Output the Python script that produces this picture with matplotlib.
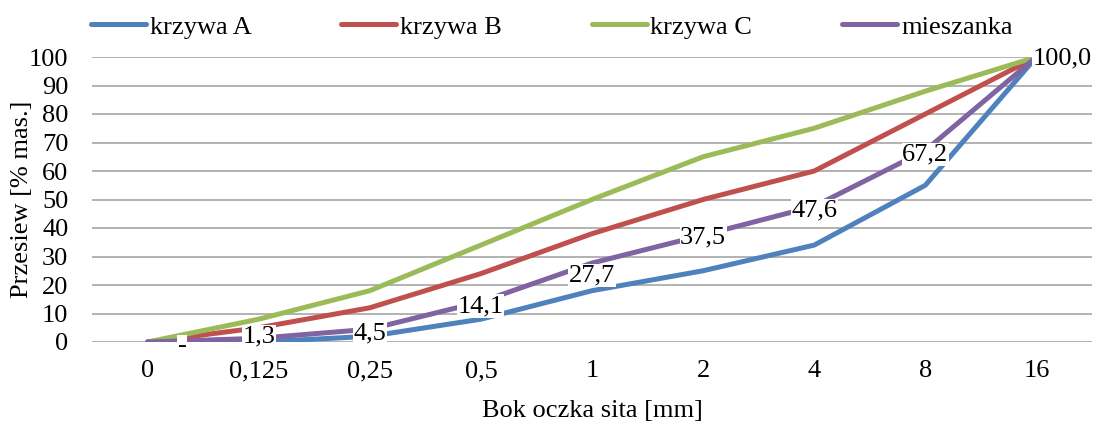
import numpy as np;
import matplotlib;
matplotlib.use("Agg");
import matplotlib.pyplot as plt;

# oczka sit i przesiewy [% mas.]
sita = ["0", "0,125", "0,25", "0,5", "1", "2", "4", "8", "16"];
krzywa_A = [0, 0, 2, 8, 18, 25, 34, 55, 100];
krzywa_B = [0, 5, 12, 24, 38, 50, 60, 80, 100];
krzywa_C = [0, 8, 18, 34, 50, 65, 75, 88, 100];
mieszanka = [0, 1.3, 4.5, 14.1, 27.7, 37.5, 47.6, 67.2, 100.0];

plt.rcParams['font.family'] = ['Liberation Serif', 'DejaVu Serif'];
plt.rcParams['font.size'] = 19;

def format_pl(v):
    if v == 0:
        return "-";
    return f"{v:.1f}".replace(".", ",");

W, H = 1096, 424;
fig = plt.figure(figsize=(W / 100, H / 100), dpi=100);
ax = fig.add_axes([92 / W, 1 - 342 / H, 1000 / W, 285 / H]);

x = np.arange(len(sita));
serie = [
    (krzywa_A, "krzywa A", "#4F81BD"),
    (krzywa_B, "krzywa B", "#C0504D"),
    (krzywa_C, "krzywa C", "#9BBB59"),
    (mieszanka, "mieszanka", "#8064A2"),
];
for dane, nazwa, kolor in serie:
    ax.plot(x, dane, color=kolor, lw=3.6, label=nazwa, solid_capstyle='round', solid_joinstyle='round', zorder=3);

# etykiety wartosci dla mieszanki (przesuniecia w pt)
przesun = [(25, -3), (0, 1), (0, -3), (0, -3), (0, -9), (0, -2), (0, -3), (0, -3), (-3, -1)];
for i, v in enumerate(mieszanka):
    dx, dy = przesun[i];
    ha = 'left' if i == len(mieszanka) - 1 else 'center';
    ax.annotate(format_pl(v), (x[i], v), xytext=(dx, dy), textcoords='offset points',
                ha=ha, va='center', fontsize=19, zorder=5,
                bbox=dict(boxstyle='square,pad=0.02', fc='white', ec='none'));

ax.set_xlim(-0.5, len(sita) - 0.5);
ax.set_ylim(0, 100);
ax.set_yticks(np.arange(0, 101, 10));
ax.set_xticks(x);
ax.set_xticklabels(sita);
ax.tick_params(axis='both', length=0);
ax.tick_params(axis='y', pad=17);
ax.tick_params(axis='x', pad=13);
ax.grid(axis='y', color='#A6A6A6', lw=1.2, zorder=0);
ax.set_axisbelow(True);
for s in ax.spines.values():
    s.set_visible(False);

fig.text(592 / W, 1 - 411 / H, "Bok oczka sita [mm]", ha='center', va='center', fontsize=19);
fig.text(22 / W, 1 - 199 / H, "Przesiew [% mas.]", ha='center', va='center', rotation=90, fontsize=19);

fig.legend(loc='center left', bbox_to_anchor=(91 / W, 1 - 27 / H), ncol=4, frameon=False,
           borderpad=0, borderaxespad=0, handlelength=2.08, handletextpad=0.15, columnspacing=3.4, fontsize=19);

plt.savefig("out.png", dpi=100);
